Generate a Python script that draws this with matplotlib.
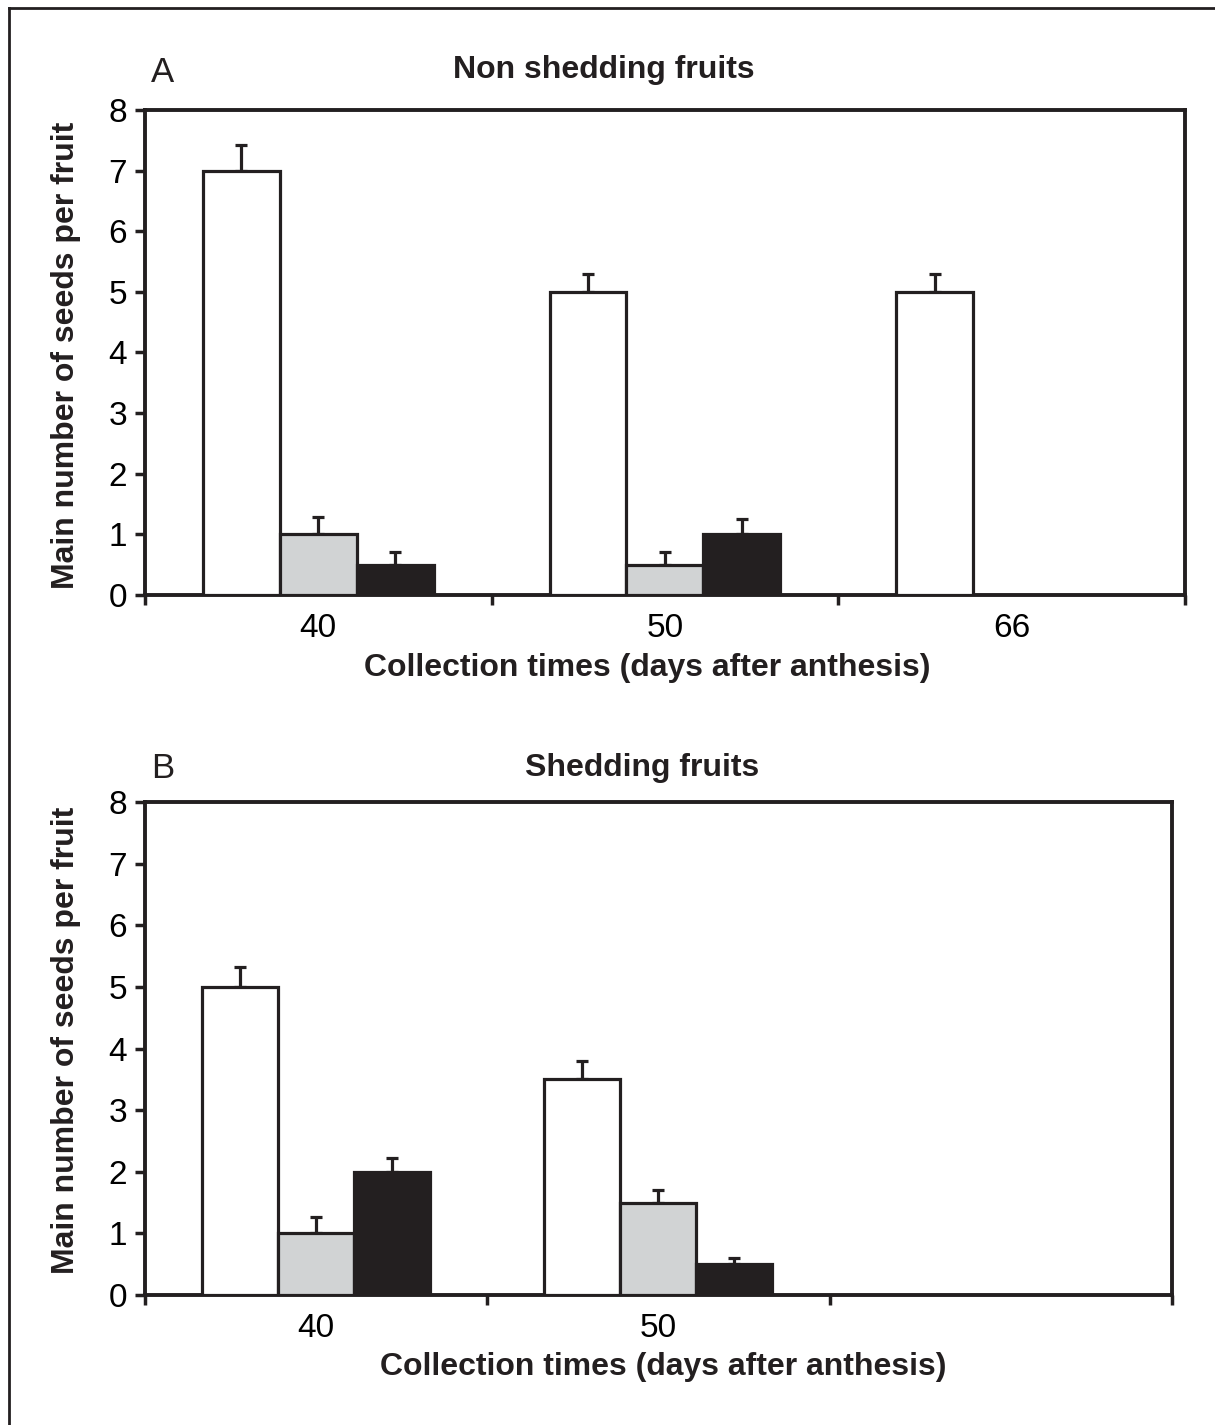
import numpy as np
import matplotlib
matplotlib.use("Agg")
import matplotlib.pyplot as plt
from matplotlib.lines import Line2D

plt.rcParams["font.family"] = ["Liberation Sans", "DejaVu Sans"]

# panel A: non shedding fruits
cats_a = ["40", "50", "66"]
white_a = [7.0, 5.0, 5.0]
white_err_a = [0.42, 0.3, 0.3]
gray_a = [1.0, 0.5, np.nan]
gray_err_a = [0.28, 0.2, np.nan]
black_a = [0.5, 1.0, np.nan]
black_err_a = [0.2, 0.25, np.nan]

# panel B: shedding fruits
cats_b = ["40", "50", ""]
white_b = [5.0, 3.5, np.nan]
white_err_b = [0.33, 0.3, np.nan]
gray_b = [1.0, 1.5, np.nan]
gray_err_b = [0.27, 0.2, np.nan]
black_b = [2.0, 0.5, np.nan]
black_err_b = [0.22, 0.1, np.nan]

INK = "#231f20"
COLORS = ["#ffffff", "#d1d3d4", INK]
W = 0.222


def draw_panel(ax, cats, series, errs):
    x = np.arange(len(cats))
    for i, (vals, err, col) in enumerate(zip(series, errs, COLORS)):
        pos = x + (i - 1) * W
        vals = np.array(vals, dtype=float)
        err = np.array(err, dtype=float)
        ax.bar(pos, vals, W, color=col, edgecolor=INK, linewidth=2.3, zorder=3)
        ax.errorbar(pos, vals, yerr=[np.zeros_like(err), err], fmt="none",
                    ecolor=INK, elinewidth=2.3, capsize=4.3, capthick=2.3, zorder=2)
    ax.set_xlim(-0.5, len(cats) - 0.5)
    ax.set_ylim(0, 8)
    ax.set_yticks(range(0, 9))
    ax.set_xticks(x)
    ax.set_xticklabels(cats)
    ax.set_xticks(np.arange(len(cats) + 1) - 0.5, minor=True)
    ax.tick_params(axis="x", which="major", length=0, pad=13, labelsize=24)
    ax.tick_params(axis="x", which="minor", length=7, width=2.5, color=INK)
    ax.tick_params(axis="y", length=7, width=2.5, color=INK, pad=6, labelsize=24)
    for s in ax.spines.values():
        s.set_linewidth(2.8)
        s.set_color(INK)


fig = plt.figure(figsize=(12.15, 14.25), dpi=100)

ax_a = fig.add_axes([0.1193, 0.5825, 0.856, 0.3404])
draw_panel(ax_a, cats_a, [white_a, gray_a, black_a], [white_err_a, gray_err_a, black_err_a])

ax_b = fig.add_axes([0.1193, 0.0912, 0.8453, 0.346])
draw_panel(ax_b, cats_b, [white_b, gray_b, black_b], [white_err_b, gray_err_b, black_err_b])

H = 1425.0
def fy(py):
    return 1 - py / H

bold = dict(fontsize=23, fontweight="bold", color=INK)
fig.text(604 / 1215, fy(70), "Non shedding fruits", ha="center", va="center", **bold)
fig.text(642 / 1215, fy(768), "Shedding fruits", ha="center", va="center", **bold)
fig.text(151 / 1215, fy(72), "A", ha="left", va="center", fontsize=25, color=INK)
fig.text(151 / 1215, fy(769), "B", ha="left", va="center", fontsize=25, color=INK)
fig.text(647 / 1215, fy(668), "Collection times (days after anthesis)", ha="center", va="center", **bold)
fig.text(663 / 1215, fy(1367), "Collection times (days after anthesis)", ha="center", va="center", **bold)
fig.text(66 / 1215, fy(355), "Main number of seeds per fruit", ha="center", va="center", rotation=90, **bold)
fig.text(66 / 1215, fy(1040), "Main number of seeds per fruit", ha="center", va="center", rotation=90, **bold)

# outer frame (top and left edges)
fig.add_artist(Line2D([9 / 1215, 9 / 1215], [0, fy(8)], transform=fig.transFigure, color=INK, lw=2))
fig.add_artist(Line2D([9 / 1215, 1], [fy(8), fy(8)], transform=fig.transFigure, color=INK, lw=2))

fig.savefig("out.png", dpi=100)
